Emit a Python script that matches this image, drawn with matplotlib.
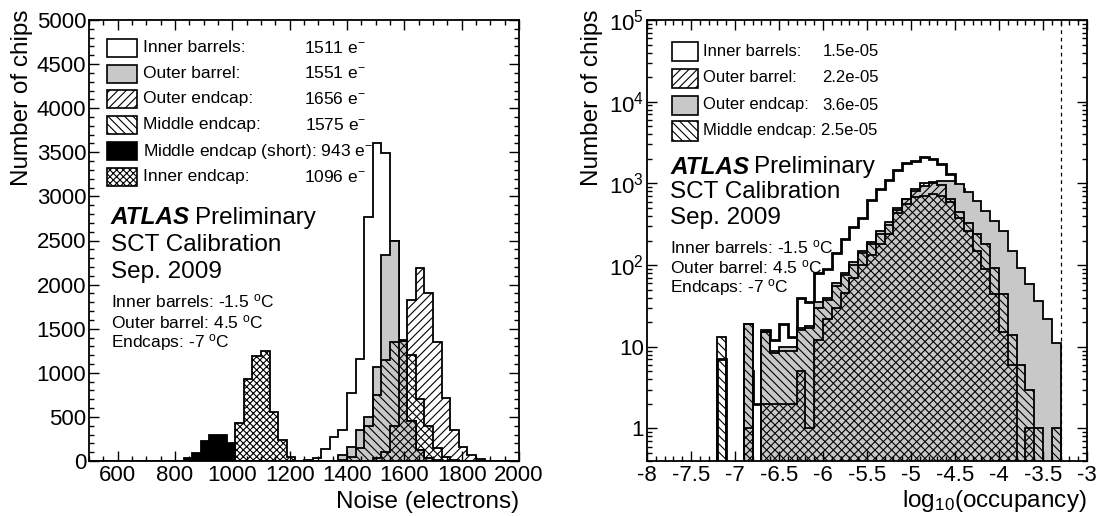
import numpy as np
import matplotlib
matplotlib.use('Agg')
import matplotlib.pyplot as plt
from matplotlib.patches import Rectangle
from matplotlib.ticker import MultipleLocator, FixedLocator, LogLocator, NullFormatter, FuncFormatter

plt.rcParams['font.family'] = ['Liberation Sans', 'DejaVu Sans']
plt.rcParams['mathtext.fontset'] = 'custom'
plt.rcParams['mathtext.rm'] = 'Liberation Sans'
plt.rcParams['mathtext.it'] = 'Liberation Sans:italic'
plt.rcParams['mathtext.bf'] = 'Liberation Sans:bold'
plt.rcParams['hatch.linewidth'] = 0.8

# ---------------- data : left panel (noise) ----------------
noise_lo, noise_hi, noise_bin = 500, 2000, 30
ib_noise_start = 1250
ib_noise = [10, 30, 140, 270, 350, 770, 1160, 2770, 3600, 3490, 2490, 1350, 450, 120, 30, 10]
ob_noise_start = 1370
ob_noise = [70, 163, 352, 500, 1070, 2340, 2490, 1365, 450, 120, 30]
oe_noise_start = 1490
oe_noise = [30, 100, 400, 1360, 1830, 2190, 1900, 1350, 710, 350, 160, 70, 20, 5]
me_noise_start = 1370
me_noise = [10, 40, 150, 400, 750, 1150, 1350, 1370, 1200, 700, 400, 150, 50, 15]
mes_noise_start = 830
mes_noise = [37, 93, 223, 300, 290, 200]
ie_noise_start = 1010
ie_noise = [430, 930, 1190, 1250, 560, 240, 40]

noise_legend = ["Inner barrels:", "Outer barrel:", "Outer endcap:", "Middle endcap:",
                "Middle endcap (short): 943 e$^{\\mathregular{-}}$", "Inner endcap:"]
noise_values = ["1511 e$^{\\mathregular{-}}$", "1551 e$^{\\mathregular{-}}$", "1656 e$^{\\mathregular{-}}$",
                "1575 e$^{\\mathregular{-}}$", "", "1096 e$^{\\mathregular{-}}$"]

# ---------------- data : right panel (occupancy) ----------------
occ_lo, occ_hi, occ_bin = -8.0, -3.0, 0.1
occ_start = -7.2
ib_occ = [7, 0, 0, 5, 2, 16, 12, 19, 13, 40, 35, 80, 90, 140, 210, 290, 380, 620, 850, 1100,
          1450, 1770, 1900, 2080, 2000, 1730, 1310, 850, 550, 320, 180, 90, 45, 20, 8, 3, 1, 0, 0]
oe_occ = [0, 0, 0, 19, 0, 15, 9, 10, 10, 17, 18, 35, 40, 60, 80, 110, 150, 190, 260, 340,
          500, 650, 800, 920, 1000, 1060, 1081, 985, 778, 615, 455, 349, 263, 149, 93, 58, 36, 22, 11]
me_occ = [13, 0, 0, 19, 0, 15, 8.5, 9, 9, 16, 17, 30, 37, 55, 75, 100, 140, 180, 240, 310,
          430, 560, 680, 700, 740, 700, 640, 450, 330, 240, 180, 93, 44, 14, 6, 3, 1, 0, 1]
ob_occ = [0, 0, 0, 1, 0, 2, 2, 2, 2, 5, 1, 12, 22, 30, 45, 70, 100, 134, 180, 240,
          470, 640, 850, 1000, 1050, 950, 600, 380, 260, 150, 90, 44, 15, 6, 0, 1, 0, 0, 0]
occ_cut = -3.301

occ_legend = ["Inner barrels:", "Outer barrel:", "Outer endcap:", "Middle endcap: 2.5e-05"]
occ_values = ["1.5e-05", "2.2e-05", "3.6e-05", ""]

atlas_lines = ["SCT Calibration", "Sep. 2009"]
temp_lines = ["Inner barrels: -1.5 $^{\\mathregular{o}}$C", "Outer barrel: 4.5 $^{\\mathregular{o}}$C",
              "Endcaps: -7 $^{\\mathregular{o}}$C"]

# ---------------- helpers ----------------
W, H = 1100, 516
fig = plt.figure(figsize=(11, 5.16), dpi=100)


def fx(px):
    return px / W


def fy(py):
    return 1 - py / H


def full(start, vals, lo, width, nbins):
    arr = np.zeros(nbins)
    k0 = int(round((start - lo) / width))
    arr[k0:k0 + len(vals)] = vals
    return arr


def style_axes(ax):
    for s in ax.spines.values():
        s.set_linewidth(1.3)
    ax.tick_params(which='both', direction='in', top=True, right=True, labelsize=16)
    ax.tick_params(which='major', length=7.5, width=1.0)
    ax.tick_params(which='minor', length=3.8, width=1.0)


TITLE_FS = 17.5
BIG_FS = 17.5

# ---------------- left panel ----------------
axL = fig.add_axes([fx(89), fy(461), fx(519) - fx(89), fy(20) - fy(461)])
n_edges = np.arange(noise_lo, noise_hi + 0.5 * noise_bin, noise_bin)
nb = len(n_edges) - 1
lw = 1.3
axL.stairs(full(ib_noise_start, ib_noise, noise_lo, noise_bin, nb), n_edges, fill=True,
           facecolor='white', edgecolor='black', linewidth=lw)
axL.stairs(full(ob_noise_start, ob_noise, noise_lo, noise_bin, nb), n_edges, fill=True,
           facecolor='#c8c8c8', edgecolor='black', linewidth=lw)
axL.stairs(full(oe_noise_start, oe_noise, noise_lo, noise_bin, nb), n_edges, fill=True,
           facecolor='none', edgecolor='black', hatch='////', linewidth=lw)
axL.stairs(full(me_noise_start, me_noise, noise_lo, noise_bin, nb), n_edges, fill=True,
           facecolor='none', edgecolor='black', hatch='\\\\\\\\', linewidth=lw)
axL.stairs(full(mes_noise_start, mes_noise, noise_lo, noise_bin, nb), n_edges, fill=True,
           facecolor='black', edgecolor='black', linewidth=lw)
axL.stairs(full(ie_noise_start, ie_noise, noise_lo, noise_bin, nb), n_edges, fill=True,
           facecolor='none', edgecolor='black', hatch='xxxxx', linewidth=lw)
axL.set_xlim(noise_lo, noise_hi)
axL.set_ylim(0, 5000)
axL.xaxis.set_major_locator(FixedLocator(np.arange(600, 2001, 200)))
axL.xaxis.set_minor_locator(MultipleLocator(50))
axL.yaxis.set_major_locator(MultipleLocator(500))
axL.yaxis.set_minor_locator(MultipleLocator(100))
style_axes(axL)
axL.tick_params(axis='y', pad=2)
axL.tick_params(axis='x', pad=3)

fig.text(fx(22), fy(9), "Number of chips", rotation=90, ha='center', va='top', fontsize=TITLE_FS)
fig.text(fx(519), fy(508), "Noise (electrons)", ha='right', va='baseline', fontsize=TITLE_FS)

# legend left
leg_styles_L = [dict(facecolor='white'), dict(facecolor='#c8c8c8'),
                dict(facecolor='white', hatch='////'), dict(facecolor='white', hatch='\\\\\\\\'),
                dict(facecolor='black'), dict(facecolor='white', hatch='xxxxx')]
rowsL = [48, 73.5, 99, 125, 151, 177]
for lab, val, st, ry in zip(noise_legend, noise_values, leg_styles_L, rowsL):
    fig.add_artist(Rectangle((fx(107), fy(ry + 9)), fx(137) - fx(107), fy(ry - 9) - fy(ry + 9),
                             transform=fig.transFigure, edgecolor='black', linewidth=1.2, **st))
    fig.text(fx(143), fy(ry), lab, ha='left', va='center', fontsize=12.5)
    if val:
        fig.text(fx(366), fy(ry), val, ha='right', va='center', fontsize=12.5)

fig.text(fx(111), fy(218), "ATLAS", ha='left', va='center', fontsize=BIG_FS, fontweight='bold', style='italic')
fig.text(fx(195), fy(218), "Preliminary", ha='left', va='center', fontsize=BIG_FS)
for s, ry in zip(atlas_lines, [245, 272]):
    fig.text(fx(111), fy(ry), s, ha='left', va='center', fontsize=BIG_FS)
for s, ry in zip(temp_lines, [301, 322, 343]):
    fig.text(fx(111), fy(ry), s, ha='left', va='center', fontsize=12.5)

# ---------------- right panel ----------------
axR = fig.add_axes([fx(647), fy(461), fx(1087) - fx(647), fy(20) - fy(461)])
o_edges = np.round(np.arange(occ_lo, occ_hi + 0.5 * occ_bin, occ_bin), 3)
ob_n = len(o_edges) - 1
floor = 1e-3


def occ_full(vals):
    return np.maximum(full(occ_start, vals, occ_lo, occ_bin, ob_n), floor)


axR.set_yscale('log')
axR.stairs(occ_full(ib_occ), o_edges, baseline=floor, fill=True, facecolor='white',
           edgecolor='black', linewidth=2.0)
axR.stairs(occ_full(oe_occ), o_edges, baseline=floor, fill=True, facecolor='#c8c8c8',
           edgecolor='black', linewidth=lw)
axR.stairs(occ_full(ob_occ), o_edges, baseline=floor, fill=True, facecolor='none',
           edgecolor='black', hatch='////', linewidth=lw)
axR.stairs(occ_full(me_occ), o_edges, baseline=floor, fill=True, facecolor='none',
           edgecolor='black', hatch='\\\\\\\\', linewidth=lw)
axR.axvline(occ_cut, color='black', linestyle=(0, (3, 3)), linewidth=0.9)
axR.set_xlim(occ_lo, occ_hi)
axR.set_ylim(0.4, 1e5)
axR.xaxis.set_major_locator(MultipleLocator(0.5))
axR.xaxis.set_minor_locator(MultipleLocator(0.1))
axR.xaxis.set_major_formatter(FuncFormatter(lambda v, p: f"{v:g}"))
axR.yaxis.set_major_locator(FixedLocator([1, 10, 100, 1e3, 1e4, 1e5]))
axR.set_yticklabels(['1', '10', '$10^{2}$', '$10^{3}$', '$10^{4}$', '$10^{5}$'])
axR.yaxis.set_minor_locator(LogLocator(base=10, subs=np.arange(2, 10), numticks=20))
axR.yaxis.set_minor_formatter(NullFormatter())
style_axes(axR)
axR.tick_params(axis='y', pad=2)
axR.tick_params(axis='x', pad=3)

fig.text(fx(592), fy(9), "Number of chips", rotation=90, ha='center', va='top', fontsize=TITLE_FS)
fig.text(fx(1087), fy(507), "log$_{10}$(occupancy)", ha='right', va='baseline', fontsize=TITLE_FS)

leg_styles_R = [dict(facecolor='white'), dict(facecolor='white', hatch='////'),
                dict(facecolor='#c8c8c8'), dict(facecolor='white', hatch='\\\\\\\\')]
rowsR = [51, 78, 105, 131]
for lab, val, st, ry in zip(occ_legend, occ_values, leg_styles_R, rowsR):
    fig.add_artist(Rectangle((fx(672), fy(ry + 9.5)), fx(698) - fx(672), fy(ry - 9.5) - fy(ry + 9.5),
                             transform=fig.transFigure, edgecolor='black', linewidth=1.2, **st))
    fig.text(fx(703), fy(ry), lab, ha='left', va='center', fontsize=12)
    if val:
        fig.text(fx(879), fy(ry), val, ha='right', va='center', fontsize=12)

fig.text(fx(670), fy(167), "ATLAS", ha='left', va='center', fontsize=BIG_FS, fontweight='bold', style='italic')
fig.text(fx(754), fy(167), "Preliminary", ha='left', va='center', fontsize=BIG_FS)
for s, ry in zip(atlas_lines, [192, 218]):
    fig.text(fx(670), fy(ry), s, ha='left', va='center', fontsize=BIG_FS)
for s, ry in zip(temp_lines, [247, 267, 288]):
    fig.text(fx(670), fy(ry), s, ha='left', va='center', fontsize=12.5)

fig.savefig('out.png', dpi=100)
